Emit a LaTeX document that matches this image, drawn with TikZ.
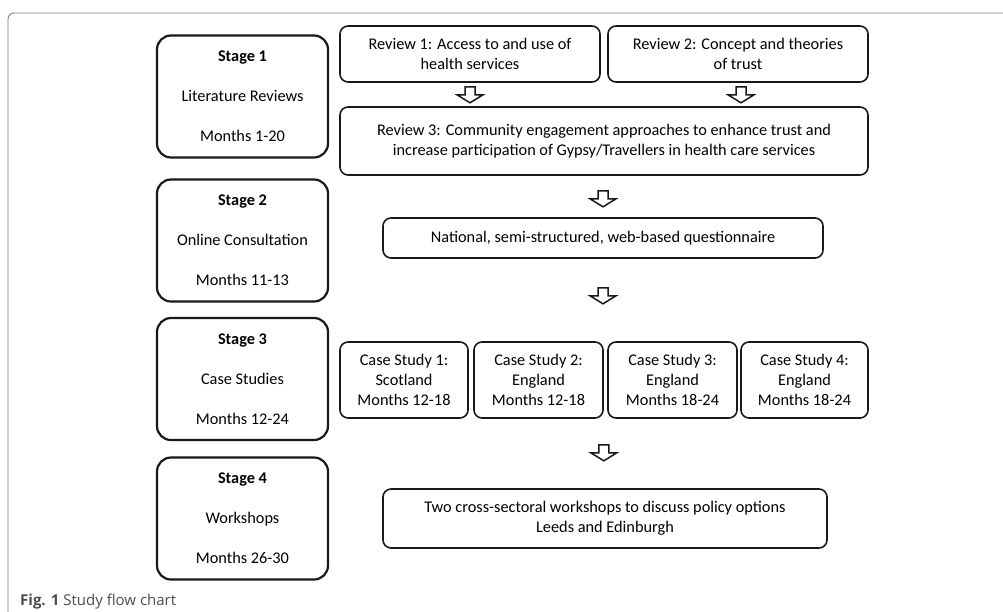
\documentclass[tikz,border=0pt]{standalone}
\usepackage{fontspec}
\setmainfont{Carlito}
\newfontfamily\capfont{Open Sans}
\usetikzlibrary{calc}
\begin{document}
\begin{tikzpicture}[x=1pt,y=-1pt,
 every node/.style={font=\fontsize{16.3}{20}\selectfont, text=black},
 stagebox/.style={draw=black!90, line width=2.2pt, rounded corners=14pt,
   minimum width=171pt, minimum height=122pt, align=center, inner sep=0pt,
   font=\fontsize{16.3}{40}\selectfont},
 itembox/.style={draw=black!90, line width=1.6pt, rounded corners=8pt,
   align=center, inner sep=0pt},
 barrow/.pic={\draw[black!90, line width=1.5pt, line join=miter]
   (-5,0) -- (5,0) -- (5,8) -- (13,8) -- (0,16) -- (-13,8) -- (-5,8) -- cycle;}]
\useasboundingbox (0,0) rectangle (1003,611);
\draw[black!50, line width=0.9pt, rounded corners=6pt] (8,612) -- (8,13) -- (1004,13);

% stages
\node[stagebox] (s1) at (242.5,96.5) {\textbf{Stage 1}\\Literature Reviews\\Months 1-20};
\node[stagebox] (s2) at (242.5,240.5) {\textbf{Stage 2}\\Online Consultation\\Months 11-13};
\node[stagebox] (s3) at (242.5,379) {\textbf{Stage 3}\\Case Studies\\Months 12-24};
\node[stagebox] (s4) at (242.5,518.5) {\textbf{Stage 4}\\Workshops\\Months 26-30};

% stage 1 items
\node[itembox, minimum width=260pt, minimum height=56pt] (r1) at (470,54)
  {Review 1: Access to and use of\\health services};
\node[itembox, minimum width=260pt, minimum height=56pt] (r2) at (738,54)
  {Review 2: Concept and theories\\of trust};
\node[itembox, minimum width=528pt, minimum height=68pt] (r3) at (604,141)
  {Review 3: Community engagement approaches to enhance trust and\\increase participation of Gypsy/Travellers in health care services};

% stage 2
\node[itembox, minimum width=440pt, minimum height=40pt] (nat) at (603,238)
  {National, semi-structured, web-based questionnaire};

% stage 3
\node[itembox, minimum width=128pt, minimum height=76pt] (cs1) at (404,380)
  {Case Study 1:\\Scotland\\Months 12-18};
\node[itembox, minimum width=129pt, minimum height=76pt] (cs2) at (538.5,380)
  {Case Study 2:\\England\\Months 12-18};
\node[itembox, minimum width=129pt, minimum height=76pt] (cs3) at (672.5,380)
  {Case Study 3:\\England\\Months 18-24};
\node[itembox, minimum width=127pt, minimum height=76pt] (cs4) at (804.5,380)
  {Case Study 4:\\England\\Months 18-24};

% stage 4
\node[itembox, minimum width=444pt, minimum height=59pt] (ws) at (605,518.5)
  {Two cross-sectoral workshops to discuss policy options\\Leeds and Edinburgh};

% block arrows
\coordinate (a1) at ($(r1.south)+(0,4)$);
\coordinate (a2) at ($(r2.south)+(3,4)$);
\coordinate (a3) at ($(r3.south)+(-1,15)$);
\coordinate (a4) at ($(nat.south)+(0,29)$);
\coordinate (a5) at ($(cs2.south east)+(0,26)$);
\pic at (a1) {barrow};
\pic at (a2) {barrow};
\pic at (a3) {barrow};
\pic at (a4) {barrow};
\pic at (a5) {barrow};

% caption
\node[anchor=base west, inner sep=0pt, font=\capfont\fontsize{15}{17}\selectfont, text=black!70] (cap) at (20,605)
  {\textbf{Fig. 1} Study flow chart};
\end{tikzpicture}
\end{document}
